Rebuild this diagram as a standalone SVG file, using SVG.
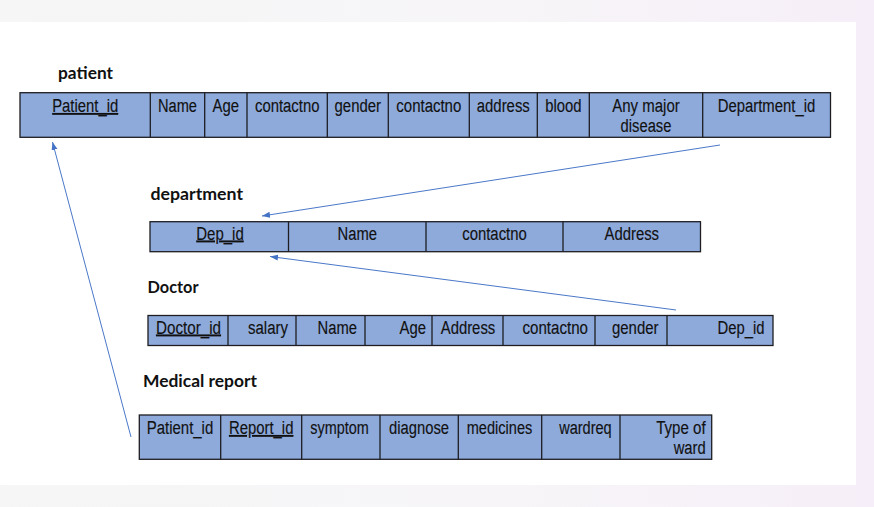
<svg xmlns="http://www.w3.org/2000/svg" width="874" height="507" viewBox="0 0 874 507">
<defs>
<linearGradient id="bg" x1="0" y1="0" x2="1" y2="0">
<stop offset="0" stop-color="#f6f6f6"/>
<stop offset="0.6" stop-color="#f7f5f8"/>
<stop offset="1" stop-color="#f6eef8"/>
</linearGradient>
<marker id="arr" markerUnits="userSpaceOnUse" markerWidth="10" markerHeight="8" refX="8" refY="3" orient="auto">
<path d="M0,0 L8,3 L0,6 Z" fill="#4472c4"/>
</marker>
<style>
.tbl{fill:#8eaadb;stroke:#1e1e22;stroke-width:1.3}
.div{stroke:#1e1e22;stroke-width:1.3}
.t{font-family:"Liberation Sans",Arial,sans-serif;font-size:18px;fill:#111;text-anchor:middle;stroke:#111;stroke-width:0.15}
.r{text-anchor:end}
.u{text-decoration:underline}
.h{font-family:Lato,"Liberation Sans",sans-serif;font-weight:bold;font-size:17px;fill:#111}
.c{fill:none;stroke:#4a78c8;stroke-width:1}
</style>
</defs>
<rect x="0" y="0" width="874" height="507" fill="url(#bg)"/>
<rect x="0" y="22" width="856" height="463" fill="#ffffff"/>

<g id="patient">
<text class="h" x="58" y="78.5" textLength="55" lengthAdjust="spacingAndGlyphs">patient</text>
<rect class="tbl" x="20" y="92.7" width="810.5" height="44.6"/>
<path class="div" d="M150.3,92.7V137.3M204.7,92.7V137.3M247,92.7V137.3M327.3,92.7V137.3M388.3,92.7V137.3M469.3,92.7V137.3M537.3,92.7V137.3M589.3,92.7V137.3M702.7,92.7V137.3"/>
<text class="t u" x="85.2" y="112" textLength="66" lengthAdjust="spacingAndGlyphs">Patient_id</text>
<text class="t" x="177.5" y="112" textLength="39" lengthAdjust="spacingAndGlyphs">Name</text>
<text class="t" x="225.8" y="112" textLength="26.5" lengthAdjust="spacingAndGlyphs">Age</text>
<text class="t" x="287.2" y="112" textLength="64.5" lengthAdjust="spacingAndGlyphs">contactno</text>
<text class="t" x="357.8" y="112" textLength="46.5" lengthAdjust="spacingAndGlyphs">gender</text>
<text class="t" x="428.8" y="112" textLength="65" lengthAdjust="spacingAndGlyphs">contactno</text>
<text class="t" x="503.3" y="112" textLength="53" lengthAdjust="spacingAndGlyphs">address</text>
<text class="t" x="563.3" y="112" textLength="36.3" lengthAdjust="spacingAndGlyphs">blood</text>
<text class="t" x="646" y="112" textLength="67.5" lengthAdjust="spacingAndGlyphs">Any major</text>
<text class="t" x="646" y="131.5" textLength="50.8" lengthAdjust="spacingAndGlyphs">disease</text>
<text class="t" x="766.5" y="112" textLength="97.5" lengthAdjust="spacingAndGlyphs">Department_id</text>
</g>

<g id="department">
<text class="h" x="150.5" y="199.5" textLength="92.5" lengthAdjust="spacingAndGlyphs">department</text>
<rect class="tbl" x="150" y="221.7" width="550.5" height="30"/>
<path class="div" d="M288.5,221.7V251.7M426,221.7V251.7M563,221.7V251.7"/>
<text class="t u" x="220" y="239.5" textLength="47.5" lengthAdjust="spacingAndGlyphs">Dep_id</text>
<text class="t" x="357.3" y="239.5" textLength="39.4" lengthAdjust="spacingAndGlyphs">Name</text>
<text class="t" x="494.5" y="239.5" textLength="64.5" lengthAdjust="spacingAndGlyphs">contactno</text>
<text class="t" x="631.8" y="239.5" textLength="54.5" lengthAdjust="spacingAndGlyphs">Address</text>
</g>

<g id="doctor">
<text class="h" x="147.5" y="293" textLength="51" lengthAdjust="spacingAndGlyphs">Doctor</text>
<rect class="tbl" x="148" y="315.5" width="625" height="30"/>
<path class="div" d="M228,315.5V345.5M296,315.5V345.5M365,315.5V345.5M432,315.5V345.5M503,315.5V345.5M595,315.5V345.5M667,315.5V345.5"/>
<text class="t u" x="188.5" y="333.5" textLength="65" lengthAdjust="spacingAndGlyphs">Doctor_id</text>
<text class="t r" x="288" y="333.5" textLength="40" lengthAdjust="spacingAndGlyphs">salary</text>
<text class="t r" x="357" y="333.5" textLength="39.4" lengthAdjust="spacingAndGlyphs">Name</text>
<text class="t r" x="426" y="333.5" textLength="26.5" lengthAdjust="spacingAndGlyphs">Age</text>
<text class="t" x="468" y="333.5" textLength="54.5" lengthAdjust="spacingAndGlyphs">Address</text>
<text class="t r" x="588" y="333.5" textLength="65.5" lengthAdjust="spacingAndGlyphs">contactno</text>
<text class="t r" x="658.5" y="333.5" textLength="46.5" lengthAdjust="spacingAndGlyphs">gender</text>
<text class="t r" x="764.5" y="333.5" textLength="47" lengthAdjust="spacingAndGlyphs">Dep_id</text>
</g>

<g id="medical-report">
<text class="h" x="143" y="387" textLength="114" lengthAdjust="spacingAndGlyphs">Medical report</text>
<rect class="tbl" x="139.3" y="415" width="572.4" height="44.3"/>
<path class="div" d="M220.7,415V459.3M301.7,415V459.3M380,415V459.3M458.3,415V459.3M541.7,415V459.3M620,415V459.3"/>
<text class="t" x="180" y="434" textLength="66.5" lengthAdjust="spacingAndGlyphs">Patient_id</text>
<text class="t u" x="261.2" y="434" textLength="64.5" lengthAdjust="spacingAndGlyphs">Report_id</text>
<text class="t" x="339.5" y="434" textLength="58.5" lengthAdjust="spacingAndGlyphs">symptom</text>
<text class="t" x="419" y="434" textLength="60" lengthAdjust="spacingAndGlyphs">diagnose</text>
<text class="t" x="499.5" y="434" textLength="65.5" lengthAdjust="spacingAndGlyphs">medicines</text>
<text class="t r" x="611.7" y="434" textLength="52.5" lengthAdjust="spacingAndGlyphs">wardreq</text>
<text class="t r" x="705.7" y="434" textLength="49.5" lengthAdjust="spacingAndGlyphs">Type of</text>
<text class="t r" x="705.7" y="454" textLength="32" lengthAdjust="spacingAndGlyphs">ward</text>
</g>

<g id="connectors">
<line class="c" x1="720" y1="145" x2="262" y2="216" marker-end="url(#arr)"/>
<line class="c" x1="676" y1="310" x2="270" y2="256.5" marker-end="url(#arr)"/>
<line class="c" x1="131" y1="437" x2="52.5" y2="142" marker-end="url(#arr)"/>
</g>
</svg>
